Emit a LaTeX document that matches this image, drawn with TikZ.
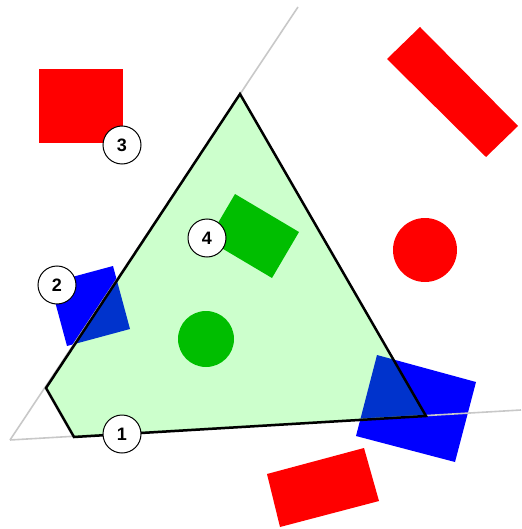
\documentclass[tikz,border=0pt]{standalone}
\usepackage{fontspec}
\setmainfont{Liberation Sans}
\definecolor{okgreen}{RGB}{0,190,0}
\definecolor{raygray}{RGB}{200,200,200}
\tikzset{
  num/.style={circle, draw, fill=white, line width=1pt, minimum size=38pt, inner sep=0pt, font=\fontsize{18}{18}\selectfont\bfseries},
  ray/.style={draw=raygray, line width=1.6pt},
  cone/.style={draw=black, line width=2.5pt, line join=miter, fill=green, fill opacity=0.2, draw opacity=1}
}

\begin{document}
\begin{tikzpicture}[x=1pt, y=-1pt]
  \useasboundingbox (0,0) rectangle (521,529);
  % red obstacles
  \fill[red] (39,69) rectangle (123,143);
  \fill[red] (387,59) -- (420,27) -- (518,126) -- (486,157) -- cycle;
  \fill[red] (425,250) circle (32pt);
  \fill[red] (267,474) -- (364,448) -- (379,501) -- (280,527) -- cycle;
  % blue obstacles
  \fill[blue] (113,266) -- (130,329) -- (67,346) -- (50,283) -- cycle;
  \fill[blue] (377,355) -- (476,382) -- (455,462) -- (356,436) -- cycle;
  % rays
  \coordinate (o) at (10,440);
  \coordinate (r1) at (298,7);
  \coordinate (r2) at (521,410);
  \draw[ray] (o) -- (r1);
  \draw[ray] (o) -- (r2);
  % region
  \coordinate (p1) at (240,94);
  \coordinate (p2) at (426,416);
  \coordinate (p3) at (74,437);
  \coordinate (p4) at (46,388);
  \path[cone] (p1) -- (p2) -- (p3) -- (p4) -- cycle;
  % green obstacles
  \fill[okgreen] (235,194) -- (299,232) -- (272,278) -- (208,240) -- cycle;
  \fill[okgreen] (206,339) circle (28pt);
  % labels
  \node[num] (n1) at (122,434) {1};
  \node[num] (n2) at (57,285) {2};
  \node[num] (n3) at (122,145) {3};
  \node[num] (n4) at (207,238) {4};
\end{tikzpicture}
\end{document}
